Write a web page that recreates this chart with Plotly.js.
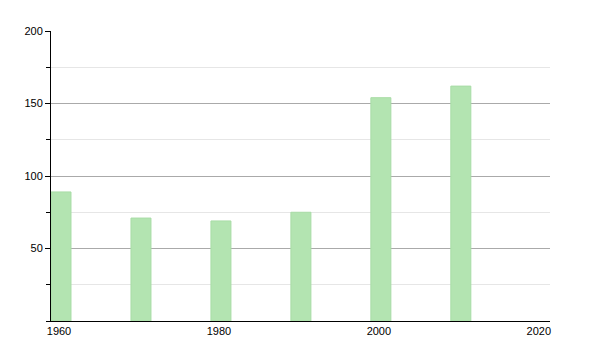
<!DOCTYPE html>
<html>
<head>
<meta charset="utf-8">
<script src="https://cdn.plot.ly/plotly-3.0.1.min.js"></script>
<style>html,body{margin:0;padding:0;background:#fff;}#chart{width:600px;height:350px;}</style>
</head>
<body>
<div id="chart"></div>
<script>
var years = [1960, 1970, 1980, 1990, 2000, 2010];
var values = [89, 71, 69, 75, 154, 162];
var xTickVals = [1960, 1980, 2000, 2020];
var yTickVals = [50, 100, 150, 200];

var trace = {
  type: 'bar',
  x: years,
  y: values,
  width: 2.5,
  offset: 0,
  marker: {color: '#b3e4b1', line: {color: '#a8dca6', width: 1}},
  hoverinfo: 'x+y'
};

var layout = {
  width: 600, height: 350,
  margin: {l: 51, r: 50, t: 31, b: 29, pad: 0},
  paper_bgcolor: '#fff', plot_bgcolor: '#fff',
  showlegend: false,
  font: {family: 'Liberation Sans, Arial, sans-serif', size: 11, color: '#000'},
  xaxis: {
    range: [1960, 2022.4],
    tickvals: xTickVals,
    ticktext: xTickVals.map(String),
    ticks: '', showgrid: false, zeroline: false,
    showline: true, linecolor: '#000', linewidth: 1,
    ticklabelshift: 8,
    tickfont: {size: 11, color: '#000'}
  },
  yaxis: {
    range: [0, 200],
    tickvals: yTickVals,
    ticktext: yTickVals.map(String),
    ticks: 'outside', ticklen: 5, tickcolor: '#000',
    showgrid: true, gridcolor: '#aaaaaa', gridwidth: 1,
    zeroline: false,
    showline: true, linecolor: '#000', linewidth: 1,
    tickfont: {size: 11, color: '#000'},
    minor: {dtick: 25, tick0: 0, showgrid: true, gridcolor: '#e6e6e6', ticks: 'outside', ticklen: 4, tickcolor: '#000'}
  }
};

Plotly.newPlot('chart', [trace], layout, {displayModeBar: false, staticPlot: true});
</script>
</body>
</html>
